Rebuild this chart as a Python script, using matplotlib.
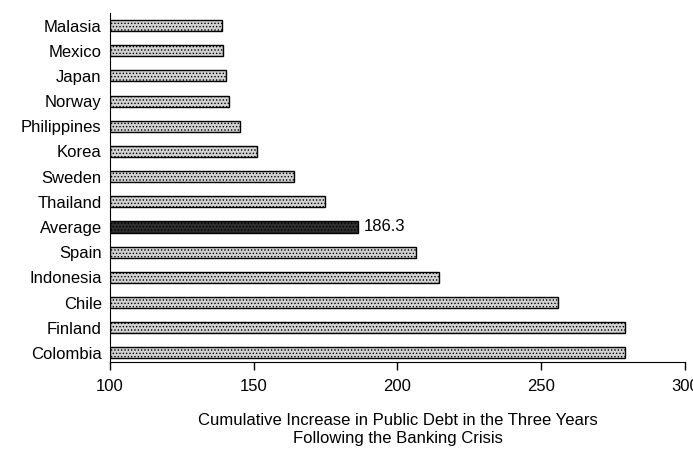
import matplotlib.pyplot as plt
import numpy as np

countries = ['Malasia', 'Mexico', 'Japan', 'Norway', 'Philippines', 'Korea', 'Sweden',
             'Thailand', 'Average', 'Spain', 'Indonesia', 'Chile', 'Finland', 'Colombia']
values = [138.9, 139.4, 140.4, 141.4, 145.3, 151.1, 163.9,
          174.7, 186.3, 206.5, 214.6, 256.0, 279.0, 279.0]
base = 100
xticks = [100, 150, 200, 250, 300]

plt.rcParams['font.family'] = ['Liberation Sans', 'DejaVu Sans']
plt.rcParams['hatch.linewidth'] = 0.6

fig = plt.figure(figsize=(6.93, 4.53), dpi=100)
ax = fig.add_axes([0.1587, 0.201, 0.8297, 0.771])

y = np.arange(len(countries))[::-1]
for yi, name, v in zip(y, countries, values):
    if name == 'Average':
        fc, hc = '#2e2e2e', '#777777'
    else:
        fc, hc = '#d2d2d2', '#8c8c8c'
    plt.rcParams['hatch.color'] = hc
    ax.barh(yi, v - base, left=base, height=0.44, color=fc, edgecolor='black',
            linewidth=1.0, hatch='.....')

avg = values[countries.index('Average')]
ax.text(avg + 2, y[countries.index('Average')], f'{avg:.1f}', va='center', ha='left', fontsize=12)

ax.set_yticks(y)
ax.set_yticklabels(countries, fontsize=12)
ax.set_xticks(xticks)
ax.set_xticklabels([str(t) for t in xticks], fontsize=12)
ax.set_xlim(100, 300)
ax.set_ylim(-0.36, 13.51)

ax.spines['top'].set_visible(False)
ax.spines['right'].set_visible(False)
ax.tick_params(axis='y', length=0, pad=6)
ax.tick_params(axis='x', length=6, width=1, direction='out', pad=6)

# 300 is cut off at the right edge, as in the reference
ax.set_xlabel('Cumulative Increase in Public Debt in the Three Years\nFollowing the Banking Crisis',
              fontsize=12, labelpad=14, linespacing=1.25)

fig.savefig('out.png', dpi=100)
